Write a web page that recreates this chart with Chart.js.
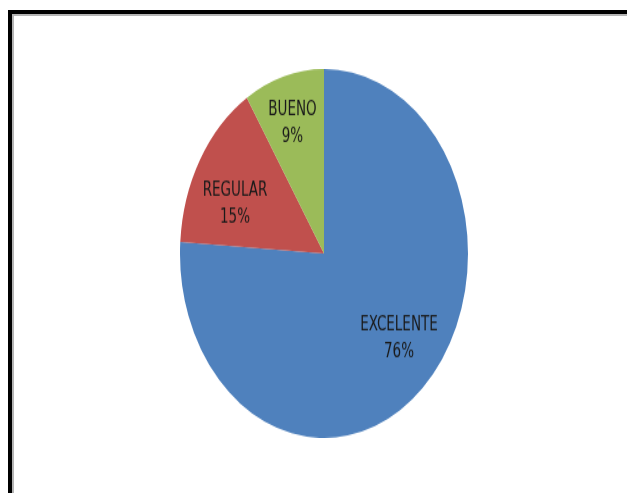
<!DOCTYPE html>
<html>
<head>
<meta charset="utf-8">
<script src="https://cdn.jsdelivr.net/npm/chart.js@4.4.0/dist/chart.umd.min.js"></script>
<style>
    html, body { margin: 0; padding: 0; background: #fff; overflow: hidden; }
    body { width: 627px; height: 493px; position: relative; }
    .frame {
        position: absolute; left: 8px; top: 10px; width: 700px; height: 600px;
        border-left: 4px solid #000; border-top: 4px solid #000;
    }
    .frame-inner {
        position: absolute; left: 0; top: 0; width: 700px; height: 600px;
        border-left: 2px solid #b4b4b4; border-top: 2px solid #b4b4b4;
    }
    /* the original picture is stretched vertically, pie and labels alike */
    .stretch {
        position: absolute; left: 0; top: 69px; width: 627px; height: 288px;
        transform: scaleY(1.281); transform-origin: 0 0;
    }
</style>
</head>
<body>
<div class="frame"><div class="frame-inner"></div></div>
<div class="stretch"><canvas id="pieChart" width="627" height="288"></canvas></div>
<script>
// Chart data
const categories = ['EXCELENTE', 'REGULAR', 'BUENO'];
const percentages = [76, 15, 9];
const sliceColors = ['#4F81BD', '#C0504D', '#9BBB59'];

// small nudges so labels sit where Excel put them
const labelNudge = [[5, -8], [-1, 13], [-3, -4]];

// Draw category name and percent inside each slice
const sliceLabels = {
    id: 'sliceLabels',
    afterDatasetsDraw(chart) {
        const ctx = chart.ctx;
        const meta = chart.getDatasetMeta(0);
        ctx.save();
        ctx.font = '15px "Liberation Sans Narrow", "DejaVu Sans Condensed", sans-serif';
        ctx.fillStyle = '#1a1a1a';
        ctx.textAlign = 'center';
        ctx.textBaseline = 'middle';
        meta.data.forEach((arc, i) => {
            const mid = (arc.startAngle + arc.endAngle) / 2;
            const r = arc.outerRadius * 0.71;
            const x = arc.x + Math.cos(mid) * r + labelNudge[i][0];
            const y = arc.y + Math.sin(mid) * r + labelNudge[i][1];
            ctx.fillText(categories[i], x, y - 10);
            ctx.fillText(percentages[i] + '%', x, y + 11);
        });
        ctx.restore();
    }
};

new Chart(document.getElementById('pieChart'), {
    type: 'pie',
    data: {
        labels: categories,
        datasets: [{
            data: percentages,
            backgroundColor: sliceColors,
            borderWidth: 0
        }]
    },
    options: {
        responsive: false,
        animation: false,
        layout: { padding: { left: 21, right: 0, top: 0, bottom: 0 } },
        plugins: {
            legend: { display: false },
            tooltip: { enabled: false }
        }
    },
    plugins: [sliceLabels]
});
</script>
</body>
</html>
